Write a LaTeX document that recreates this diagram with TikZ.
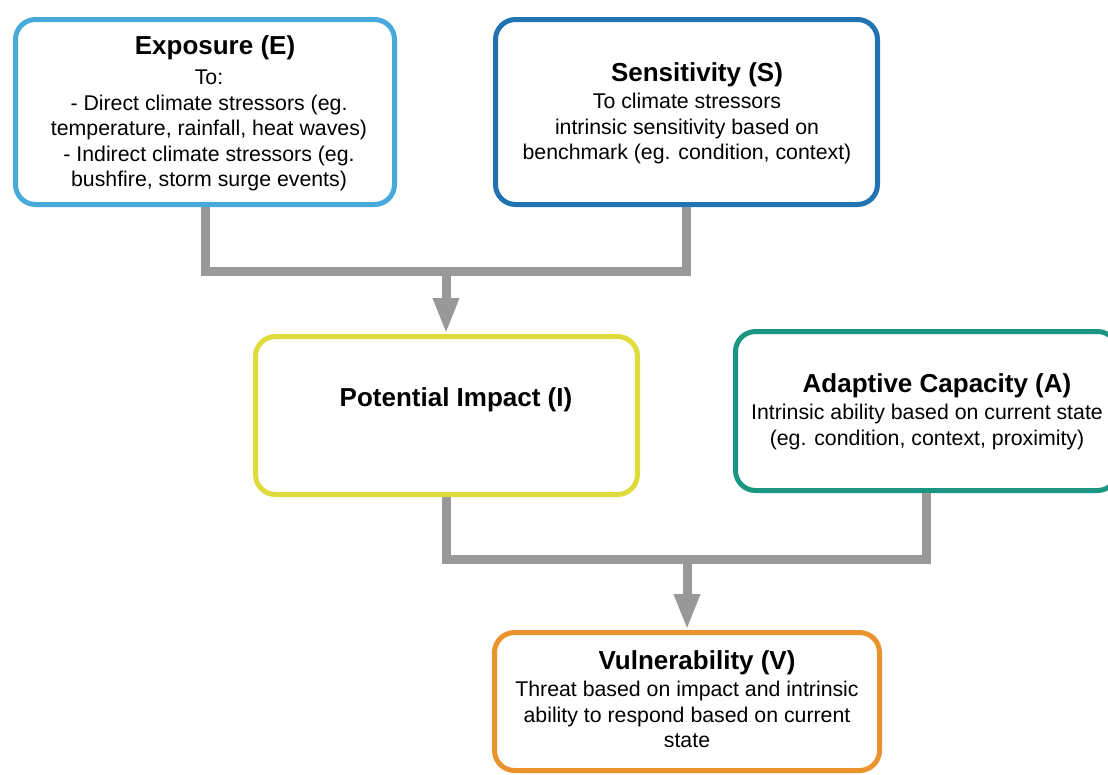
\documentclass[tikz,border=0pt]{standalone}
\usepackage{fontspec}
\setmainfont{Liberation Sans}
\usetikzlibrary{arrows.meta}

\definecolor{expoblue}{HTML}{48A9DB}
\definecolor{sensblue}{HTML}{1F74B1}
\definecolor{impyellow}{HTML}{DEDC3C}
\definecolor{adaptteal}{HTML}{1B9682}
\definecolor{vulnorange}{HTML}{EA932D}
\definecolor{linkgray}{HTML}{999999}

\newcommand{\boxtitle}[1]{{\fontsize{26}{30}\selectfont\bfseries #1}}

\begin{document}
\begin{tikzpicture}[x=1pt,y=-1pt,
  box/.style={draw, line width=5pt, rounded corners=20pt, fill=white, inner sep=0pt},
  boxtext/.style={align=center, inner sep=0pt, anchor=north,
    font=\fontsize{21.3}{25.5}\selectfont},
  link/.style={draw=linkgray, line width=9pt, line join=miter},
  linkarrow/.style={link, -{Triangle[length=36pt,width=24pt]}}
]
\useasboundingbox (0,0) rectangle (1108,774);
\clip (0,0) rectangle (1108,774);

% boxes
\node[box, draw=expoblue,   minimum width=379pt, minimum height=185pt] (expo)  at (205,112)   {};
\node[box, draw=sensblue,   minimum width=382pt, minimum height=185pt] (sens)  at (686.5,112) {};
\node[box, draw=impyellow,  minimum width=382pt, minimum height=158pt] (pot)   at (446.5,415.5) {};
\node[box, draw=adaptteal,  minimum width=382pt, minimum height=159pt] (adapt) at (926.5,411) {};
\node[box, draw=vulnorange, minimum width=385pt, minimum height=138pt] (vuln)  at (687,701.5) {};

% connectors
\coordinate (m1) at (446,271);
\coordinate (m2) at (687,559);
\draw[link] (expo.south) |- (m1) -| (sens.south);
\draw[linkarrow] (m1) -- (m1 |- pot.north);
\draw[link] (pot.south) |- (m2) -| (adapt.south);
\draw[linkarrow] (m2) -- (m2 |- vuln.north);

% texts
\node[boxtext] (expotxt) at (209,35) {\hspace*{12pt}\boxtitle{Exposure (E)}\\[5pt]
  To:\\
  - Direct climate stressors (eg.\\
  temperature, rainfall, heat waves)\\
  - Indirect climate stressors (eg.\\
  bushfire, storm surge events)};
\node[boxtext] (senstxt) at (687,62) {\hspace*{20pt}\boxtitle{Sensitivity (S)}\\[2pt]
  To climate stressors\\
  intrinsic sensitivity based on\\
  benchmark (eg. condition, context)};
\node[boxtext] (pottxt) at (446,387) {\hspace*{20pt}\boxtitle{Potential Impact (I)}};
\node[boxtext] (adapttxt) at (927,373) {\hspace*{20pt}\boxtitle{Adaptive Capacity (A)}\\[2pt]
  Intrinsic ability based on current state\\
  (eg. condition, context, proximity)};
\node[boxtext] (vulntxt) at (687,650) {\hspace*{20pt}\boxtitle{Vulnerability (V)}\\[2pt]
  Threat based on impact and intrinsic\\
  ability to respond based on current\\
  state};
\end{tikzpicture}
\end{document}
